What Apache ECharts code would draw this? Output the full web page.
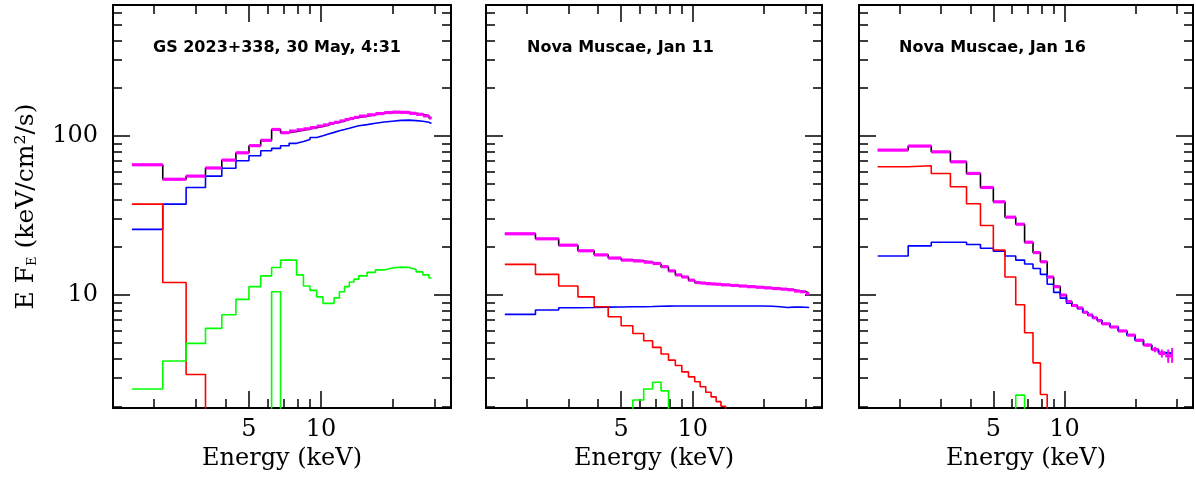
<!DOCTYPE html>
<html>
<head>
<meta charset="UTF-8">
<title>EF(E) spectra</title>
<script src="https://cdn.jsdelivr.net/npm/echarts@6.0.0/dist/echarts.min.js"></script>
<style>
html, body { margin: 0; padding: 0; background: #fff; }
#spec { width: 1196px; height: 484px; }
</style>
</head>
<body>
<div id="spec"></div>
<script type="text/javascript">
// energy bin edges (keV), same channels for the three spectra up to 28.3 keV
var edgesLow = [1.62, 2.18, 2.73, 3.29, 3.85, 4.41, 5.0, 5.6, 6.22, 6.78, 7.36, 7.91, 8.45, 9.0, 9.6,
    10.2, 10.75, 11.35, 11.95, 12.55, 13.15, 13.75, 14.4, 15.6, 16.9, 18.4, 19.9, 21.6, 23.4, 25.0, 26.7, 28.3];
var edges1 = edgesLow.concat([29.0]);
var edges2 = edgesLow.concat([29.9, 30.9]);
var edges3 = edgesLow.concat([28.8]);

var titles = ['GS 2023+338, 30 May, 4:31', 'Nova Muscae, Jan 11', 'Nova Muscae, Jan 16'];

// tick values
var xMajor = [5, 10];
var xMinor = [2, 3, 4, 6, 7, 8, 9, 20, 30];
var yMajor = [10, 100];
var yMinor = [2, 3, 4, 5, 6, 7, 8, 9, 20, 30, 40, 50, 60, 70, 80, 90, 200, 300, 400, 500, 600];

// panel 1 : GS 2023+338
var data1 = [66, 53.5, 56, 63, 70.6, 78.5, 87, 94, 110, 105, 107.5, 109.5, 111, 113, 115.5, 117.5, 120, 122,
    124.5, 127, 129, 131, 133.5, 136, 138.5, 140.5, 141.5, 141, 139, 137, 134, 130];
var model1 = [66, 53.5, 56, 63, 70.6, 78.5, 87, 94, 110, 105, 107, 109, 111, 113, 115, 117.5, 120, 122,
    124.5, 127, 129, 131, 133.5, 136, 138.5, 140.5, 141.5, 141, 139, 137, 134, 130];
var blue1 = [25.9, 37.3, 47.5, 56, 62.7, 70, 75.2, 80.9, 83.7, 87, 90, 92.5, 95, 98, 100.5, 103, 105.5, 108,
    110, 112, 114, 116, 118, 120.5, 122.5, 124, 125.5, 126, 125, 124, 122, 120];
var red1 = [37.3, 12.0, 3.17, 0.5];
var green1 = [2.57, 3.85, 4.97, 6.18, 7.52, 9.4, 11.3, 13.2, 14.9, 16.6, 16.6, 13.4, 11.4, 10.7, 9.75, 8.87,
    8.87, 9.6, 10.5, 11.3, 12.1, 12.6, 13.2, 13.9, 14.4, 14.8, 15.0, 14.9, 14.5, 14.0, 13.4, 12.8];
var line1 = [0.5, 10.5, 0.5];      // starts at bin 7

// panel 2 : Nova Muscae, Jan 11
var data2 = [24.3, 22.6, 20.6, 19.0, 17.9, 17.1, 16.6, 16.4, 16.1, 15.8, 15.1, 14.2, 13.4, 13.0, 12.4, 12.0,
    11.9, 11.8, 11.75, 11.7, 11.6, 11.6, 11.5, 11.4, 11.3, 11.2, 11.1, 11.0, 10.9, 10.8, 10.6, 10.5, 10.2];
var model2 = [24.3, 22.6, 20.6, 19.0, 17.9, 17.1, 16.6, 16.4, 16.1, 15.7, 15.0, 14.2, 13.4, 13.0, 12.4, 12.0,
    11.9, 11.8, 11.75, 11.7, 11.6, 11.6, 11.5, 11.4, 11.3, 11.2, 11.1, 11.0, 10.9, 10.8, 10.6, 10.5, 10.3];
var blue2 = [7.56, 8.05, 8.33, 8.36, 8.4, 8.42, 8.45, 8.45, 8.47, 8.5, 8.52, 8.53, 8.53, 8.53, 8.53, 8.53,
    8.53, 8.53, 8.53, 8.53, 8.53, 8.53, 8.53, 8.53, 8.53, 8.53, 8.5, 8.45, 8.35, 8.4, 8.4, 8.38, 8.35];
var red2 = [15.6, 13.5, 11.4, 9.75, 8.45, 7.31, 6.42, 5.74, 5.16, 4.69, 4.26, 3.9, 3.61, 3.29, 3.06, 2.85,
    2.65, 2.45, 2.29, 2.14, 2.0, 1.5];
var line2 = [0.5, 2.19, 2.57, 2.83, 2.5, 0.5];   // starts at bin 6

// panel 3 : Nova Muscae, Jan 16
var data3 = [81.6, 86.5, 79.6, 68.9, 58.2, 47.5, 38.6, 30.9, 27.9, 21.5, 18.5, 16.2, 13.0, 11.3, 10.0, 9.1,
    8.6, 8.3, 7.8, 7.5, 7.2, 6.9, 6.6, 6.3, 5.95, 5.6, 5.2, 4.85, 4.55, 4.3, 4.15, 4.2];
var err3 = [0, 0, 0, 0, 0, 0, 0, 0, 0, 0, 0, 0, 0, 0, 0, 0, 0, 0, 0, 0, 0, 0, 0.05, 0.06, 0.07, 0.08, 0.1,
    0.12, 0.18, 0.25, 0.4, 0.45];
var model3 = [81.6, 86.5, 79.6, 68.9, 58.2, 47.5, 38.6, 30.9, 27.9, 21.5, 18.5, 16.2, 13.0, 11.3, 10.0, 9.1,
    8.6, 8.3, 7.8, 7.5, 7.2, 6.95, 6.6, 6.3, 5.95, 5.6, 5.2, 4.85, 4.55, 4.35, 4.3, 4.3];
var blue3 = [17.6, 20.4, 21.5, 21.5, 20.8, 19.7, 18.9, 17.6, 16.6, 15.7, 14.7, 13.5, 11.7, 10.4, 9.57, 8.9,
    8.5, 8.2, 7.8, 7.5, 7.2, 6.95, 6.6, 6.3, 5.95, 5.6, 5.2, 4.85, 4.55, 4.35, 4.3, 4.3];
var red3 = [64.1, 65.0, 58.2, 48.0, 37.5, 27.4, 19.2, 13.0, 8.69, 5.8, 3.75, 2.37, 0.5];
var line3 = [0.5, 2.35, 0.5];      // starts at bin 7

var xMin = 1.35, xMax = 35;
var yMin = 1.95, yMax = 667;

var serif = 'DejaVu Serif';

// histogram -> points for a step:'end' line
function steps(edges, vals, start) {
    start = start || 0;
    var pts = [];
    for (var i = 0; i < vals.length; i++) {
        pts.push([edges[start + i], vals[i]]);
    }
    pts.push([edges[start + vals.length], vals[vals.length - 1]]);
    return pts;
}

// data points : bin edges, value, error
function bars(edges, vals, errs) {
    return vals.map(function (v, i) {
        return [edges[i], edges[i + 1], v, errs ? errs[i] : 0];
    });
}

function renderBar(params, api) {
    var x0 = api.value(0), x1 = api.value(1), y = api.value(2), e = api.value(3);
    var a = api.coord([x0, y]), b = api.coord([x1, y]);
    var kids = [{
        type: 'line',
        shape: {x1: a[0], y1: a[1], x2: b[0], y2: b[1]},
        style: {stroke: '#ff00ff', lineWidth: 3.2}
    }];
    if (e > 0) {
        var xm = Math.sqrt(x0 * x1);
        var lo = api.coord([xm, y - e]), hi = api.coord([xm, y + e]);
        kids.push({
            type: 'line',
            shape: {x1: lo[0], y1: lo[1], x2: hi[0], y2: hi[1]},
            style: {stroke: '#ff00ff', lineWidth: 2}
        });
    }
    return {type: 'group', children: kids};
}

var grids = [
    {left: 113, top: 5, width: 338, height: 403},
    {left: 486, top: 5, width: 336, height: 403},
    {left: 859, top: 5, width: 334, height: 403}
];

function tick(len, vals) {
    return {show: true, inside: true, length: len, customValues: vals, lineStyle: {color: '#000', width: 1.5}};
}

var xAxes = [], yAxes = [];
grids.forEach(function (g, i) {
    var bx = {gridIndex: i, type: 'log', min: xMin, max: xMax, splitLine: {show: false},
        axisLine: {show: true, lineStyle: {color: '#000', width: 2}}, axisLabel: {show: false}};
    var by = {gridIndex: i, type: 'log', min: yMin, max: yMax, splitLine: {show: false},
        axisLine: {show: true, lineStyle: {color: '#000', width: 2}}, axisLabel: {show: false}};
    xAxes.push(Object.assign({}, bx, {
        position: 'bottom', axisTick: tick(17, xMajor),
        axisLabel: {show: true, customValues: xMajor, margin: 10, color: '#000', fontFamily: serif, fontSize: 24,
            formatter: function (v) { return String(Math.round(v)); }},
        name: 'Energy (keV)', nameLocation: 'middle', nameGap: 37,
        nameTextStyle: {color: '#000', fontFamily: serif, fontSize: 24}
    }));
    xAxes.push(Object.assign({}, bx, {position: 'bottom', axisLine: {show: false}, axisTick: tick(9, xMinor)}));
    xAxes.push(Object.assign({}, bx, {position: 'top', axisTick: tick(17, xMajor)}));
    xAxes.push(Object.assign({}, bx, {position: 'top', axisLine: {show: false}, axisTick: tick(9, xMinor)}));

    var left = Object.assign({}, by, {position: 'left', axisTick: tick(17, yMajor)});
    if (i === 0) {
        left.axisLabel = {show: true, customValues: yMajor, margin: 15, color: '#000', fontFamily: serif, fontSize: 24,
            formatter: function (v) { return String(Math.round(v)); }};
        left.name = 'E F{s|E} (keV/cm\u00b2/s)';
        left.nameLocation = 'middle';
        left.nameGap = 74;
        left.nameRotate = 90;
        left.nameTextStyle = {color: '#000', fontFamily: serif, fontSize: 25,
            rich: {s: {fontFamily: serif, fontSize: 13, color: '#000', padding: [12, 0, 0, 0]}}};
    }
    yAxes.push(left);
    yAxes.push(Object.assign({}, by, {position: 'left', axisLine: {show: false}, axisTick: tick(9, yMinor)}));
    yAxes.push(Object.assign({}, by, {position: 'right', axisTick: tick(17, yMajor)}));
    yAxes.push(Object.assign({}, by, {position: 'right', axisLine: {show: false}, axisTick: tick(9, yMinor)}));
});

function stepSeries(panel, color, pts) {
    return {
        type: 'line', xAxisIndex: panel * 4, yAxisIndex: panel * 4, step: 'end', z: 2,
        data: pts, symbol: 'none', clip: true, silent: true,
        lineStyle: {color: color, width: 1.6}
    };
}
function dataSeries(panel, items) {
    return {
        type: 'custom', xAxisIndex: panel * 4, yAxisIndex: panel * 4, clip: true, silent: true, z: 6,
        encode: {x: [0, 1], y: 2}, data: items, renderItem: renderBar
    };
}

var series = [
    stepSeries(0, '#000000', steps(edges1, model1)),
    stepSeries(0, '#0000ff', steps(edges1, blue1)),
    stepSeries(0, '#ff0000', steps(edges1, red1)),
    stepSeries(0, '#00ff00', steps(edges1, green1)),
    stepSeries(0, '#00ff00', steps(edges1, line1, 7)),
    dataSeries(0, bars(edges1, data1)),

    stepSeries(1, '#000000', steps(edges2, model2)),
    stepSeries(1, '#0000ff', steps(edges2, blue2)),
    stepSeries(1, '#ff0000', steps(edges2, red2)),
    stepSeries(1, '#00ff00', steps(edges2, line2, 6)),
    dataSeries(1, bars(edges2, data2)),

    stepSeries(2, '#000000', steps(edges3, model3)),
    stepSeries(2, '#0000ff', steps(edges3, blue3)),
    stepSeries(2, '#ff0000', steps(edges3, red3)),
    stepSeries(2, '#00ff00', steps(edges3, line3, 7)),
    dataSeries(2, bars(edges3, data3, err3))
];

var titleLeft = [153, 527, 899];
var chart = echarts.init(document.getElementById('spec'), null, {renderer: 'canvas'});
chart.setOption({
    animation: false,
    backgroundColor: '#fff',
    title: titles.map(function (t, i) {
        return {text: t, left: titleLeft[i], top: 40, padding: 0,
            textStyle: {color: '#000', fontFamily: 'DejaVu Sans', fontWeight: 'bold', fontSize: 16}};
    }),
    grid: grids,
    xAxis: xAxes,
    yAxis: yAxes,
    series: series
});
</script>
</body>
</html>
